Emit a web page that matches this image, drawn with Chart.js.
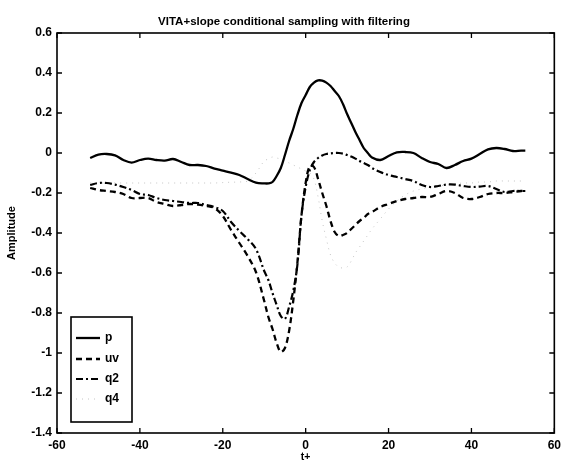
<!DOCTYPE html>
<html lang="en">
<head>
<meta charset="UTF-8">
<script src="https://cdn.jsdelivr.net/npm/chart.js"></script>
<style>
  body { margin: 0; background: #fff; }
  #wrap { width: 566px; height: 464px; }
</style>
</head>
<body>
<div id="wrap"><canvas id="myChart" width="566" height="464"></canvas></div>
<script>
// t+ sample points (shared by all series)
var tPlus = [-52,-50,-48,-46,-44,-42,-40,-38,-36,-34,-32,-30,-28,-26,-24,-22,-20,-18,-16,-14,-12,-10,-9,-8,-7,-6,-5,-4,-3,-2,-1,0,1,2,3,4,5,6,7,8,9,10,11,12,13,14,15,16,18,20,22,24,26,28,30,32,34,36,38,40,42,44,46,48,50,52,53];

var p = [-0.025,-0.008,-0.005,-0.012,-0.035,-0.048,-0.035,-0.028,-0.035,-0.038,-0.03,-0.045,-0.06,-0.06,-0.065,-0.078,-0.088,-0.098,-0.11,-0.13,-0.148,-0.152,-0.152,-0.145,-0.115,-0.075,-0.01,0.06,0.12,0.19,0.25,0.29,0.33,0.352,0.363,0.362,0.352,0.335,0.31,0.285,0.245,0.195,0.15,0.105,0.065,0.025,0.0,-0.022,-0.035,-0.015,0.003,0.005,0.0,-0.025,-0.045,-0.055,-0.075,-0.06,-0.04,-0.028,-0.005,0.018,0.025,0.02,0.01,0.012,0.012];

var uv = [-0.175,-0.185,-0.19,-0.195,-0.205,-0.225,-0.225,-0.225,-0.245,-0.255,-0.265,-0.26,-0.255,-0.258,-0.265,-0.275,-0.315,-0.385,-0.45,-0.515,-0.595,-0.74,-0.82,-0.88,-0.95,-0.995,-0.975,-0.89,-0.74,-0.55,-0.31,-0.15,-0.065,-0.07,-0.13,-0.2,-0.265,-0.34,-0.395,-0.415,-0.41,-0.4,-0.38,-0.36,-0.34,-0.325,-0.305,-0.295,-0.27,-0.255,-0.24,-0.23,-0.225,-0.22,-0.22,-0.205,-0.19,-0.2,-0.225,-0.23,-0.22,-0.205,-0.2,-0.2,-0.195,-0.19,-0.19];

var q2 = [-0.16,-0.15,-0.15,-0.158,-0.17,-0.185,-0.205,-0.21,-0.225,-0.235,-0.24,-0.245,-0.25,-0.25,-0.26,-0.27,-0.29,-0.345,-0.39,-0.43,-0.48,-0.59,-0.635,-0.7,-0.76,-0.815,-0.83,-0.77,-0.69,-0.56,-0.31,-0.17,-0.085,-0.045,-0.025,-0.012,-0.005,-0.002,0.0,0.0,-0.003,-0.01,-0.018,-0.028,-0.04,-0.05,-0.06,-0.075,-0.095,-0.11,-0.12,-0.13,-0.14,-0.16,-0.17,-0.165,-0.158,-0.158,-0.165,-0.17,-0.168,-0.165,-0.18,-0.195,-0.19,-0.19,-0.19];

var q4 = [-0.15,-0.15,-0.15,-0.15,-0.15,-0.15,-0.15,-0.15,-0.15,-0.15,-0.15,-0.15,-0.15,-0.15,-0.15,-0.15,-0.148,-0.146,-0.145,-0.14,-0.1,-0.04,-0.03,-0.02,-0.025,-0.03,-0.04,-0.05,-0.06,-0.07,-0.08,-0.09,-0.1,-0.13,-0.22,-0.34,-0.43,-0.51,-0.55,-0.57,-0.575,-0.57,-0.54,-0.5,-0.47,-0.44,-0.41,-0.38,-0.33,-0.28,-0.24,-0.21,-0.19,-0.18,-0.17,-0.165,-0.16,-0.155,-0.15,-0.15,-0.145,-0.145,-0.14,-0.14,-0.14,-0.14,-0.14];

var seriesNames = ['p', 'uv', 'q2', 'q4'];
var titleText = 'VITA+slope conditional sampling with filtering';
var FONT = '"Liberation Sans", Arial, sans-serif';

function pts(arr) {
    return tPlus.map(function (t, i) { return { x: t, y: arr[i] }; });
}

// box, inward ticks, title and the in-axes legend (matlab style)
var matlabFrame = {
    id: 'matlabFrame',
    afterDatasetsDraw: function (chart) {
        var ctx = chart.ctx, a = chart.chartArea;
        var xs = chart.scales.x, ys = chart.scales.y;
        ctx.save();
        ctx.strokeStyle = '#000';
        ctx.lineWidth = 1.6;
        ctx.strokeRect(a.left, a.top, a.right - a.left, a.bottom - a.top);
        ctx.lineWidth = 1.3;
        var tl = 5;
        xs.ticks.forEach(function (t) {
            var px = xs.getPixelForValue(t.value);
            ctx.beginPath();
            ctx.moveTo(px, a.bottom); ctx.lineTo(px, a.bottom - tl);
            ctx.moveTo(px, a.top); ctx.lineTo(px, a.top + tl);
            ctx.stroke();
        });
        ys.ticks.forEach(function (t) {
            var py = ys.getPixelForValue(t.value);
            ctx.beginPath();
            ctx.moveTo(a.left, py); ctx.lineTo(a.left + tl, py);
            ctx.moveTo(a.right, py); ctx.lineTo(a.right - tl, py);
            ctx.stroke();
        });

        // title (sits a bit left of the axes centre in the scan)
        ctx.fillStyle = '#000';
        ctx.font = 'bold 11.5px ' + FONT;
        ctx.textAlign = 'center';
        ctx.textBaseline = 'middle';
        ctx.fillText(titleText, 284, 22);

        // legend
        var lx = 71, ly = 317, lw = 61, lh = 105;
        ctx.fillStyle = '#fff';
        ctx.fillRect(lx, ly, lw, lh);
        ctx.lineWidth = 1.6;
        ctx.strokeStyle = '#000';
        ctx.strokeRect(lx, ly, lw, lh);
        var rows = [338, 359, 379, 399];
        chart.data.datasets.forEach(function (ds, i) {
            ctx.save();
            ctx.strokeStyle = ds.borderColor;
            ctx.lineWidth = ds.borderWidth;
            ctx.setLineDash(ds.borderDash || []);
            ctx.beginPath();
            ctx.moveTo(76, rows[i]); ctx.lineTo(100, rows[i]);
            ctx.stroke();
            ctx.restore();
            ctx.fillStyle = '#000';
            ctx.font = 'bold 12px ' + FONT;
            ctx.textAlign = 'left';
            ctx.fillText(ds.label, 105, rows[i]);
        });
        ctx.restore();
    }
};

var ctx = document.getElementById('myChart').getContext('2d');
var myChart = new Chart(ctx, {
    type: 'line',
    data: {
        datasets: [
            { label: seriesNames[0], data: pts(p), borderColor: '#000', borderWidth: 2.3 },
            { label: seriesNames[1], data: pts(uv), borderColor: '#000', borderWidth: 2.3, borderDash: [6, 4] },
            { label: seriesNames[2], data: pts(q2), borderColor: '#000', borderWidth: 2.2, borderDash: [7, 3, 2, 3] },
            { label: seriesNames[3], data: pts(q4), borderColor: '#c4c4c4', borderWidth: 1, borderDash: [1, 5] }
        ]
    },
    options: {
        responsive: false,
        animation: false,
        events: [],
        elements: { point: { radius: 0 }, line: { tension: 0.35, fill: false } },
        layout: { padding: { top: 33, right: 11, left: 0, bottom: 0 } },
        plugins: { legend: { display: false }, tooltip: { enabled: false }, title: { display: false } },
        scales: {
            x: {
                type: 'linear', min: -60, max: 60,
                afterFit: function (s) { s.height = 31; },
                grid: { display: false, drawTicks: false },
                border: { display: false },
                ticks: { stepSize: 20, padding: 5, color: '#000', font: { family: FONT, size: 12, weight: 'bold' } },
                title: { display: true, text: 't+', color: '#000', padding: { top: 0, bottom: 1 }, font: { family: FONT, size: 10.5, weight: 'bold' } }
            },
            y: {
                min: -1.4, max: 0.6,
                afterFit: function (s) { s.width = 57; },
                grid: { display: false, drawTicks: false },
                border: { display: false },
                ticks: {
                    stepSize: 0.2, padding: 5, color: '#000',
                    font: { family: FONT, size: 12, weight: 'bold' },
                    callback: function (v) { return String(Math.round(v * 10) / 10); }
                },
                title: { display: true, text: 'Amplitude', color: '#000', padding: { top: 5, bottom: 0 }, font: { family: FONT, size: 11, weight: 'bold' } }
            }
        }
    },
    plugins: [matlabFrame]
});
</script>
</body>
</html>
